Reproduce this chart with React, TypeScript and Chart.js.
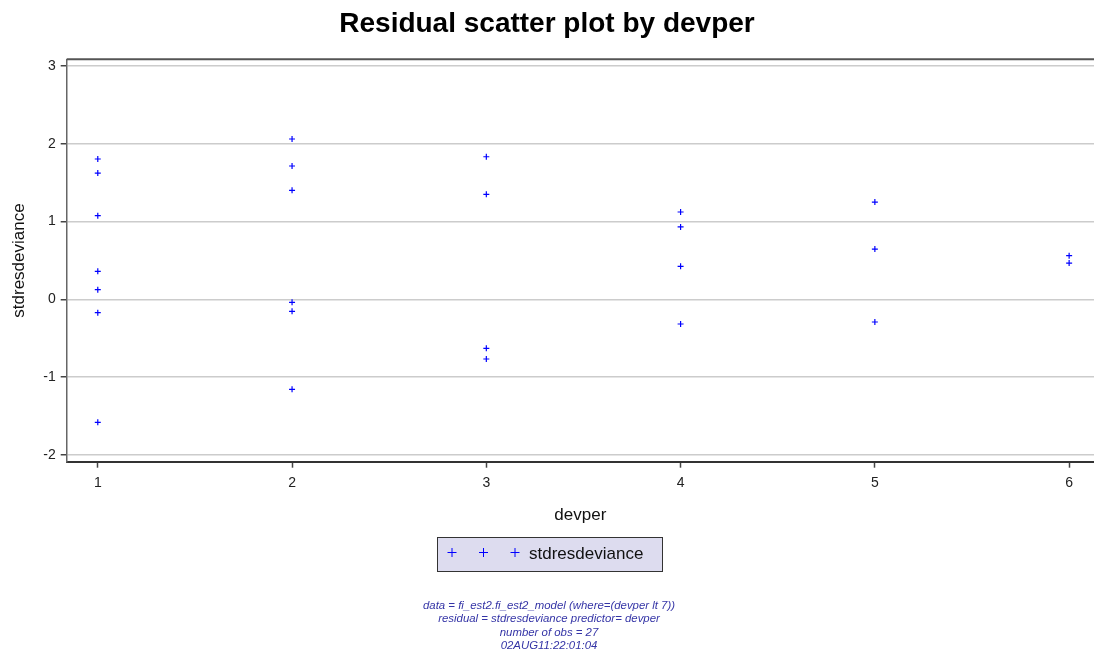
import React, { useEffect, useRef } from "react";
import { Chart, registerables } from "chart.js";

Chart.register(...registerables);

const devper = [1, 1, 1, 1, 1, 1, 1, 2, 2, 2, 2, 2, 2, 3, 3, 3, 3, 4, 4, 4, 4, 5, 5, 5, 6, 6];
const stdresdeviance = [
  1.806, 1.625, 1.076, 0.36, 0.124, -0.172, -1.583,
  2.063, 1.716, 1.403, -0.039, -0.155, -1.158,
  1.835, 1.351, -0.631, -0.768,
  1.124, 0.931, 0.425, -0.318,
  1.252, 0.647, -0.292,
  0.561, 0.467,
];
const xTicks = [1, 2, 3, 4, 5, 6];
const yTicks = [-2, -1, 0, 1, 2, 3];
const titleText = "Residual scatter plot by devper";
const xTitle = "devper";
const yTitle = "stdresdeviance";
const seriesLabel = "stdresdeviance";
const footnotes = [
  "data = fi_est2.fi_est2_model (where=(devper lt 7))",
  "residual = stdresdeviance predictor= devper",
  "number of obs = 27",
  "02AUG11:22:01:04",
];

const FONT = "'Liberation Sans', Arial, sans-serif";
const BLUE = "#0000ff";

const decorPlugin = {
  id: "decor",
  afterDraw(chart: any) {
    const { ctx, chartArea } = chart;
    ctx.save();
    // top border of plot frame
    ctx.strokeStyle = "#555555";
    ctx.lineWidth = 2;
    ctx.beginPath();
    ctx.moveTo(chartArea.left, chartArea.top);
    ctx.lineTo(chart.width, chartArea.top);
    ctx.stroke();

    // legend box
    const bx = 437, by = 537, bw = 225, bh = 34;
    ctx.fillStyle = "#dddcef";
    ctx.fillRect(bx, by, bw, bh);
    ctx.strokeStyle = "#333333";
    ctx.lineWidth = 1;
    ctx.strokeRect(bx + 0.5, by + 0.5, bw, bh);
    const color = chart.data.datasets[0].borderColor;
    ctx.strokeStyle = color;
    ctx.lineWidth = 1;
    const cy = 552.5;
    [452, 483.5, 515].forEach((cx) => {
      ctx.beginPath();
      ctx.moveTo(cx - 4.5, cy);
      ctx.lineTo(cx + 4.5, cy);
      ctx.moveTo(cx, cy - 4.5);
      ctx.lineTo(cx, cy + 4.5);
      ctx.stroke();
    });
    ctx.fillStyle = "#111111";
    ctx.font = `17px ${FONT}`;
    ctx.textAlign = "left";
    ctx.textBaseline = "middle";
    ctx.fillText(chart.data.datasets[0].label, 529, 554);

    // footnotes
    ctx.fillStyle = "#3434a6";
    ctx.font = `italic 11.4px ${FONT}`;
    ctx.textAlign = "center";
    footnotes.forEach((t, i) => {
      ctx.fillText(t, 549, 606 + i * 13.3);
    });
    ctx.restore();
  },
};

export default function App() {
  const ref = useRef<HTMLCanvasElement | null>(null);
  useEffect(() => {
    if (!ref.current) return;
    const chart = new Chart(ref.current, {
      type: "scatter",
      data: {
        datasets: [
          {
            label: seriesLabel,
            data: devper.map((x, i) => ({ x, y: stdresdeviance[i] })),
            pointStyle: "cross",
            pointRadius: 3,
            pointBorderWidth: 1.2,
            borderColor: BLUE,
            backgroundColor: BLUE,
          },
        ],
      },
      options: {
        responsive: false,
        animation: false,
        layout: { autoPadding: false, padding: { left: 0, right: 0, top: 0, bottom: 0 } },
        plugins: {
          legend: { display: false },
          tooltip: { enabled: false },
          title: {
            display: true,
            text: titleText,
            color: "#000000",
            font: { family: FONT, size: 28, weight: "bold" },
            padding: { top: 7, bottom: 18.7 },
          },
        },
        scales: {
          x: {
            type: "linear",
            min: 0.84,
            max: 6.128,
            afterFit: (s: any) => {
              s.height = 190.3;
              s.paddingLeft = 0;
              s.paddingRight = 0;
            },
            afterBuildTicks: (s: any) => {
              s.ticks = xTicks.map((v) => ({ value: v }));
            },
            ticks: {
              color: "#222222",
              font: { family: FONT, size: 14 },
              padding: 7,
            },
            grid: {
              display: true,
              drawOnChartArea: false,
              drawTicks: true,
              tickLength: 6,
              tickColor: "#444444",
              tickWidth: 1.5,
            },
            border: { display: true, color: "#333333", width: 2 },
            title: {
              display: true,
              text: xTitle,
              color: "#111111",
              font: { family: FONT, size: 17 },
              padding: { top: 0, bottom: 126.8 },
            },
          },
          y: {
            type: "linear",
            min: -2.09,
            max: 3.089,
            afterFit: (s: any) => {
              s.width = 66.7;
              s.paddingTop = 0;
              s.paddingBottom = 0;
            },
            afterBuildTicks: (s: any) => {
              s.ticks = yTicks.map((v) => ({ value: v }));
            },
            ticks: {
              color: "#222222",
              font: { family: FONT, size: 14 },
              padding: 5,
            },
            grid: {
              display: true,
              drawOnChartArea: true,
              drawTicks: true,
              tickLength: 6,
              color: "#cccccc",
              lineWidth: 1.5,
              tickColor: "#444444",
              tickWidth: 1.5,
            },
            border: { display: true, color: "#666666", width: 1.5 },
            title: {
              display: true,
              text: yTitle,
              color: "#111111",
              font: { family: FONT, size: 17 },
              padding: { top: 9.4, bottom: 0 },
            },
          },
        },
      },
      plugins: [decorPlugin],
    });
    return () => chart.destroy();
  }, []);

  return (
    <div style={{ position: "absolute", left: 0, top: 0, width: 1094, height: 652, background: "#ffffff" }}>
      <canvas ref={ref} width={1094} height={652} style={{ display: "block" }} />
    </div>
  );
}
